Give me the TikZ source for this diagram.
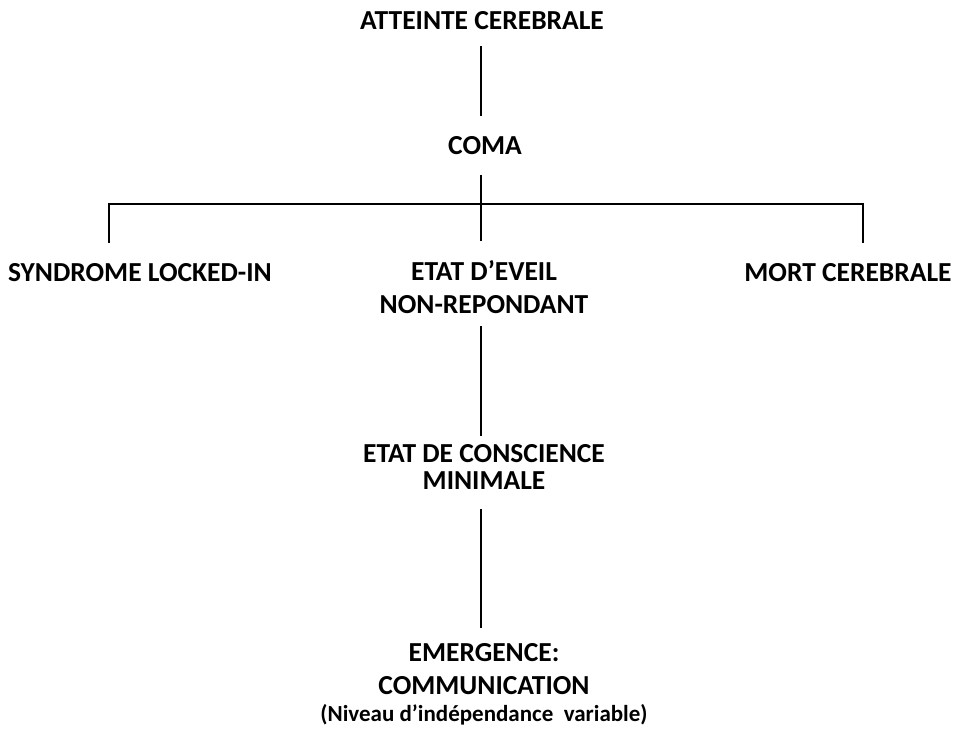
\documentclass[tikz,border=0pt]{standalone}
\usepackage{fontspec}
\setmainfont{Carlito}
\usetikzlibrary{positioning, calc}

\begin{document}
\begin{tikzpicture}[
    x=1pt, y=-1pt,
    font=\fontsize{27.5}{33}\selectfont\bfseries,
    lbl/.style={
        inner xsep=0pt, inner ysep=20pt, anchor=north, align=center
    },
    link/.style={line width=2.5pt}
]
\useasboundingbox (0,0) rectangle (963,730);

% GUIDE COORDINATES
\coordinate (spine) at (481,0);
\coordinate (bar) at (481,204);
\coordinate (lbranch) at (109,0);
\coordinate (rbranch) at (863,0);

% LEVELS
\node[lbl] (atteinte) at (482,-8.3) {ATTEINTE CEREBRALE};
\node[lbl] (coma) at (485,116) {COMA};

\node[lbl] (locked) at (140,243) {SYNDROME LOCKED-IN};
\node[lbl] (eveil) at (484,240.5) {ETAT D’EVEIL\\NON-REPONDANT};
\node[lbl] (mort) at (848,243) {MORT CEREBRALE};

\node[lbl, font=\fontsize{27.5}{27}\selectfont\bfseries] (conscience) at (484,424) {ETAT DE CONSCIENCE\\MINIMALE};

\node[lbl, font=\fontsize{27.5}{33.5}\selectfont\bfseries] (emergence) at (484,623)
    {EMERGENCE:\\COMMUNICATION\\[-7pt]{\fontsize{23}{26}\selectfont (Niveau d’indépendance~ variable)}};

% LINKS
\draw[link, shorten <=-4.5pt] (atteinte.south -| spine) -- (coma.north -| spine);
\draw[link] (coma.south -| spine) -- (eveil.north -| spine);

% Branch bar
\draw[link] (locked.north -| lbranch) |- (bar) -| (mort.north -| rbranch);

\draw[link, shorten <=-8pt, shorten >=-12pt] (eveil.south -| spine) -- (conscience.north -| spine);
\draw[link, shorten >=-5pt] (conscience.south -| spine) -- (emergence.north -| spine);

\end{tikzpicture}
\end{document}
